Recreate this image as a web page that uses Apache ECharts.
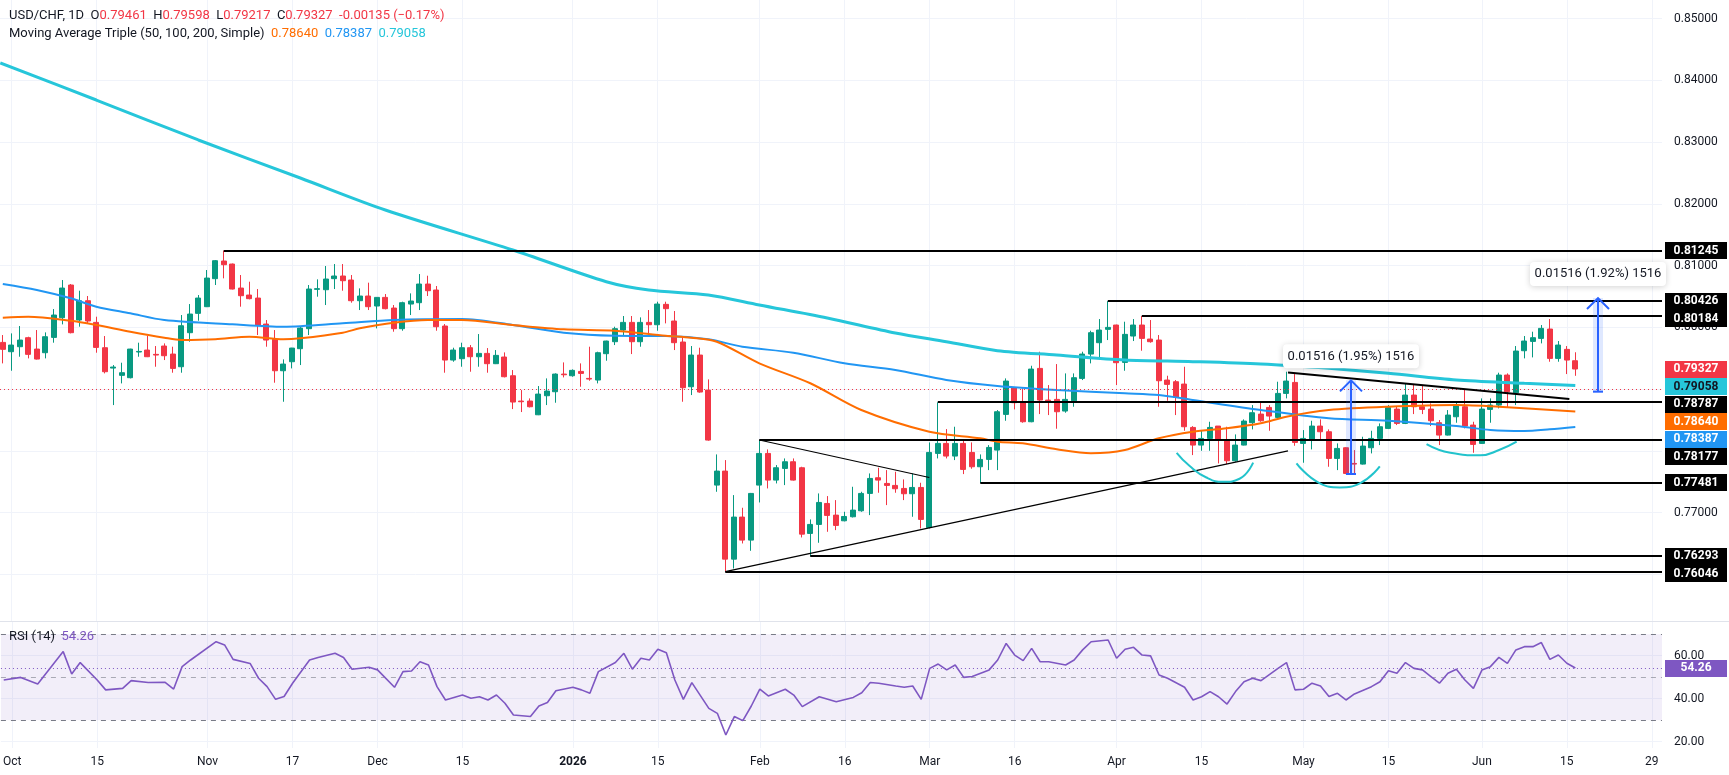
<!DOCTYPE html>
<html><head><meta charset="utf-8">
<script src="https://cdn.jsdelivr.net/npm/echarts@6/dist/echarts.min.js"></script>
<style>html,body{margin:0;padding:0;background:#fff;overflow:hidden}#c{width:1729px;height:775px}</style>
</head><body><div id="c"></div>
<script>
const FONT = 'Roboto, "Noto Sans", "DejaVu Sans", sans-serif';
// ---- time axis (trading-day index; 0 = 1 Oct 2025) ----
const firstIdx = -1;
const tickIdx  = [0,10,23,33,43,53,66,76,88,98,108,118,130,140,152,162,173,183,193];
const tickText = ['Oct','15','Nov','17','Dec','15','2026','15','Feb','16','Mar','16','Apr','15','May','15','Jun','15','29'];
// ---- price ticks ----
const priceTicks = [0.76,0.77,0.78,0.79,0.80,0.81,0.82,0.83,0.84,0.85];
const rsiTicks = [20,40,60];
// ---- daily candles (index -1 .. 184) ----
const open = [0.79758,0.79607,0.79688,0.79834,0.79650,0.79591,0.79839,0.80158,0.80687,0.80120,0.80433,0.80082,0.79672,0.79342,0.79224,0.79186,0.79602,0.79634,0.79564,0.79699,0.79569,0.79364,0.79915,0.80228,0.80336,0.80790,0.81076,0.81027,0.80638,0.80525,0.80476,0.80055,0.79807,0.79299,0.79445,0.79656,0.79980,0.80617,0.80611,0.80790,0.80833,0.80768,0.80433,0.80509,0.80347,0.80487,0.80314,0.79980,0.80379,0.80401,0.80703,0.80606,0.80023,0.79472,0.79494,0.79672,0.79526,0.79580,0.79413,0.79521,0.79218,0.78808,0.78808,0.78586,0.78894,0.78959,0.79245,0.79218,0.79288,0.79175,0.79148,0.79575,0.79769,0.79958,0.80082,0.79769,0.80082,0.80044,0.80374,0.80104,0.79764,0.79040,0.79553,0.78986,0.77447,0.77674,0.76248,0.76929,0.76556,0.77447,0.77960,0.77528,0.77717,0.77825,0.77728,0.76664,0.76810,0.77150,0.76961,0.76869,0.76934,0.77031,0.77312,0.77566,0.77474,0.77442,0.77393,0.77307,0.77409,0.76761,0.77960,0.78122,0.77917,0.78122,0.77976,0.77744,0.77863,0.78014,0.78592,0.79024,0.78781,0.78473,0.79337,0.78824,0.78835,0.78646,0.78813,0.79175,0.79569,0.79753,0.79969,0.80039,0.79434,0.79861,0.80039,0.79812,0.79796,0.79148,0.79121,0.79083,0.78381,0.78095,0.78203,0.78403,0.78160,0.77841,0.78095,0.78457,0.78597,0.78705,0.78543,0.78932,0.79110,0.78122,0.78187,0.78403,0.78311,0.77879,0.78052,0.77798,0.77787,0.78052,0.78203,0.78365,0.78678,0.78446,0.78905,0.78716,0.78678,0.78457,0.78257,0.78554,0.78716,0.78419,0.78122,0.78673,0.78743,0.79229,0.78943,0.79623,0.79774,0.79823,0.79974,0.79499,0.79645,0.79461];
const high = [0.79877,0.79904,0.80023,0.79850,0.79958,0.79920,0.80298,0.80768,0.80703,0.80595,0.80509,0.80174,0.79861,0.79391,0.79429,0.79655,0.79753,0.79866,0.79699,0.79742,0.79688,0.80201,0.80379,0.80525,0.80930,0.81092,0.81245,0.81035,0.80849,0.80741,0.80622,0.80120,0.79958,0.79483,0.79670,0.80012,0.80687,0.80779,0.80995,0.81027,0.81027,0.80849,0.80633,0.80725,0.80490,0.80541,0.80363,0.80417,0.80552,0.80865,0.80838,0.80671,0.80055,0.79672,0.79753,0.79715,0.79893,0.79666,0.79634,0.79596,0.79310,0.78986,0.78851,0.79051,0.79175,0.79256,0.79434,0.79321,0.79418,0.79688,0.79607,0.79785,0.80012,0.80185,0.80185,0.80163,0.80282,0.80417,0.80417,0.80266,0.79850,0.79699,0.79672,0.79159,0.77944,0.77852,0.77285,0.77080,0.77320,0.78177,0.78025,0.77771,0.77879,0.77879,0.77744,0.76891,0.77312,0.77269,0.77204,0.77015,0.77420,0.77339,0.77636,0.77728,0.77690,0.77663,0.77539,0.77636,0.77485,0.78138,0.78787,0.78354,0.78392,0.78176,0.78138,0.77944,0.78095,0.78662,0.79175,0.79030,0.79013,0.79380,0.79607,0.79067,0.79407,0.79256,0.79256,0.79607,0.79947,0.80136,0.80426,0.80045,0.80093,0.80136,0.80184,0.80120,0.79877,0.79218,0.79148,0.79364,0.78402,0.78338,0.78473,0.78403,0.78392,0.78268,0.78511,0.78743,0.78781,0.78743,0.79121,0.79283,0.79245,0.78338,0.78489,0.78511,0.78349,0.78122,0.78060,0.78014,0.78230,0.78327,0.78446,0.78743,0.78727,0.79094,0.79083,0.79056,0.78770,0.78500,0.78662,0.78781,0.79002,0.78473,0.78851,0.78851,0.79267,0.79256,0.79699,0.79861,0.79931,0.80039,0.80136,0.79780,0.79699,0.79598];
const low = [0.79418,0.79299,0.79526,0.79499,0.79480,0.79499,0.79753,0.80050,0.79904,0.80012,0.80066,0.79591,0.79256,0.78743,0.79094,0.79175,0.79526,0.79520,0.79364,0.79472,0.79267,0.79267,0.79769,0.80109,0.80330,0.80687,0.80795,0.80615,0.80336,0.80455,0.79877,0.79688,0.79105,0.78797,0.79337,0.79391,0.79877,0.80498,0.80363,0.80622,0.80595,0.80401,0.80282,0.80282,0.79985,0.80293,0.79931,0.79947,0.80201,0.80282,0.80509,0.79947,0.79267,0.79445,0.79364,0.79283,0.79364,0.79267,0.79407,0.79191,0.78678,0.78630,0.78705,0.78580,0.78743,0.78781,0.79191,0.79202,0.79040,0.79137,0.79094,0.79461,0.79715,0.79877,0.79569,0.79688,0.79850,0.79947,0.80066,0.79634,0.78797,0.78905,0.78943,0.78165,0.77339,0.76046,0.76097,0.76502,0.76383,0.77166,0.77393,0.77474,0.77447,0.77520,0.76599,0.76293,0.76513,0.76691,0.76718,0.76860,0.76923,0.77015,0.76961,0.77323,0.77123,0.77323,0.77204,0.76934,0.76745,0.76745,0.77879,0.77879,0.77852,0.77625,0.77712,0.77481,0.77690,0.77690,0.78489,0.78673,0.78457,0.78465,0.78597,0.78581,0.78360,0.78619,0.78716,0.79148,0.79418,0.79483,0.79796,0.79067,0.79299,0.79780,0.79623,0.79753,0.78716,0.78813,0.78581,0.78327,0.77933,0.78003,0.78003,0.77798,0.77787,0.77825,0.78090,0.78349,0.78473,0.78327,0.78527,0.78851,0.78084,0.77809,0.78025,0.78176,0.77744,0.77690,0.77625,0.77625,0.77780,0.77960,0.78095,0.78354,0.78419,0.78435,0.78597,0.78597,0.78403,0.78095,0.78250,0.78457,0.78365,0.77971,0.78115,0.78457,0.78689,0.78705,0.78743,0.79499,0.79515,0.79742,0.79445,0.79445,0.79245,0.79217];
const close = [0.79645,0.79715,0.79796,0.79564,0.79488,0.79850,0.80201,0.80638,0.79915,0.80433,0.80104,0.79677,0.79283,0.79359,0.79267,0.79650,0.79612,0.79526,0.79553,0.79542,0.79337,0.80028,0.80217,0.80476,0.80800,0.81081,0.81016,0.80622,0.80514,0.80466,0.80034,0.79796,0.79299,0.79407,0.79666,0.79990,0.80622,0.80628,0.80784,0.80833,0.80757,0.80433,0.80509,0.80336,0.80487,0.80304,0.79980,0.80401,0.80428,0.80703,0.80595,0.80012,0.79472,0.79634,0.79672,0.79526,0.79580,0.79413,0.79548,0.79202,0.78792,0.78797,0.78716,0.78921,0.78970,0.79245,0.79234,0.79305,0.79256,0.79164,0.79591,0.79780,0.79980,0.80082,0.79769,0.80082,0.80044,0.80379,0.80304,0.79753,0.79024,0.79553,0.78954,0.78176,0.77674,0.76248,0.76929,0.76556,0.77312,0.77960,0.77528,0.77728,0.77825,0.77528,0.76653,0.76810,0.77166,0.76956,0.76794,0.76939,0.77042,0.77312,0.77555,0.77528,0.77442,0.77388,0.77307,0.77409,0.76891,0.77976,0.78122,0.77917,0.78122,0.77701,0.77744,0.77863,0.78057,0.78635,0.79132,0.78781,0.78473,0.79326,0.78824,0.78813,0.78635,0.78835,0.79186,0.79569,0.79915,0.79958,0.80001,0.79429,0.79888,0.80039,0.79823,0.79769,0.79137,0.79078,0.78867,0.78392,0.78095,0.78203,0.78381,0.78187,0.77841,0.78095,0.78484,0.78619,0.78489,0.78565,0.78932,0.79132,0.78138,0.78203,0.78403,0.78311,0.77879,0.78041,0.77636,0.77787,0.78079,0.78203,0.78392,0.78705,0.78446,0.78905,0.78716,0.78673,0.78489,0.78257,0.78581,0.78727,0.78403,0.78106,0.78678,0.78743,0.79229,0.78959,0.79618,0.79780,0.79834,0.79985,0.79499,0.79715,0.79472,0.79327];
// ---- moving averages [dayIndex, value] ----
const ma50 = [[-1,0.80158],[2,0.80174],[7,0.80109],[10,0.80040],[14,0.79931],[18,0.79834],[20,0.79797],[24,0.79808],[28,0.79850],[32,0.79808],[34,0.79824],[39,0.79915],[41,0.79986],[45,0.80077],[49,0.80121],[53,0.80121],[59,0.80040],[65,0.79970],[71,0.79947],[77,0.79866],[80,0.79834],[83,0.79769],[88,0.79419],[94,0.79096],[100,0.78663],[108,0.78312],[114,0.78205],[116,0.78150],[119,0.78124],[123,0.78027],[127,0.77962],[131,0.78015],[135,0.78205],[139,0.78312],[143,0.78367],[147,0.78448],[150,0.78555],[155,0.78663],[162,0.78717],[170,0.78744],[175,0.78717],[184,0.78640]];
const ma100 = [[-1,0.80704],[3,0.80607],[7,0.80472],[10,0.80336],[14,0.80229],[18,0.80121],[26,0.80051],[32,0.80012],[39,0.80067],[45,0.80121],[53,0.80137],[59,0.80040],[65,0.79915],[71,0.79866],[77,0.79861],[82,0.79808],[86,0.79688],[92,0.79591],[98,0.79419],[104,0.79311],[110,0.79149],[116,0.79052],[123,0.78987],[131,0.78934],[135,0.78906],[139,0.78825],[147,0.78663],[155,0.78529],[162,0.78490],[170,0.78404],[174,0.78339],[178,0.78323],[181,0.78350],[184,0.78387]];
const ma200 = [[-1.3,0.84283],[10,0.83683],[22,0.83036],[34,0.82420],[44,0.81902],[59,0.81254],[70,0.80741],[75,0.80607],[82,0.80526],[88,0.80364],[96,0.80153],[104,0.79910],[110,0.79769],[116,0.79624],[123,0.79554],[131,0.79473],[139,0.79446],[147,0.79408],[155,0.79338],[162,0.79258],[170,0.79149],[178,0.79096],[184,0.79058]];
// ---- RSI(14) ----
const rsiIdx = [-1,1,3,6,7,8,10,11,13,14,16,18,19,20,21,24,25,26,28,29,30,31,32,33,35,36,38,39,40,42,43,45,46,47,48,49,50,51,53,54,55,56,57,58,59,61,62,63,64,66,67,68,69,71,72,73,74,75,76,77,78,79,80,82,83,84,85,86,87,88,89,91,92,93,95,97,99,100,101,102,104,105,106,107,108,109,110,111,112,113,115,116,117,118,119,120,121,122,124,125,126,127,129,130,131,132,133,134,135,136,138,139,140,141,142,143,144,145,146,147,149,150,151,152,153,154,155,156,157,158,160,161,162,163,164,165,166,167,168,169,170,171,172,173,174,175,176,177,178,179,180,181,182,183,184];
const rsiVal = [48.7,49.9,46.8,61.9,51.5,56.8,48.7,44.1,44.8,48.4,47.5,47.6,44.5,54.9,58,66.5,65,58.3,56.4,49.5,45.6,39.7,41,47.2,58,59.2,61.1,59.2,53.7,54.6,53.4,45.3,52.6,52.9,57.2,55.7,45.6,39.4,41.7,40.2,40.9,39.4,41.7,37.9,32.4,31.7,36.6,38.2,43.7,45.3,44.1,42.5,52.6,56.8,61.1,53.7,58.8,58,63,61.4,48.7,39.7,47.5,35.5,33.2,23.1,31.7,29.8,36.6,44.4,41.3,44.4,41.7,36.3,40.9,38.6,40.6,42.8,47.5,47.2,45.9,45.3,45.9,39.7,54.1,56.1,53.4,55.7,49.9,50.3,53.4,58,65.7,60.3,57.7,63.4,57.2,57.2,55.7,58,62.7,66.5,67.3,58.8,63,63.9,60.3,59.9,51,49.5,45.3,39.4,40.9,43.3,40.9,37.5,43.3,47.9,49.5,48.4,54.1,56.8,44.1,44.4,47.2,45.9,41,42.5,39.4,42.2,45.6,47.9,53,51.8,56.8,54.1,53.4,50.3,47.2,51.8,53.7,48.7,44.8,53.3,54.9,59.2,56.4,62.7,64.2,64.2,66.1,58.3,60.3,56.5,54.26];
const rsiLevels = [70,50,30];
// ---- drawings ----
const levelStart = [25,129,133,109,88,114,94,84];
const levelPrice = [0.81245,0.80426,0.80184,0.78787,0.78177,0.77481,0.76293,0.76046];
const triUpper = [[88,0.78177],[108,0.7757]];
const triLower = [[84,0.76046],[150.2,0.7800]];
const descLine = [[150.2,0.7927],[183.3,0.7884]];
const arc1 = [[137.1,0.7797],[138.6,0.7776],[140.6,0.7757],[142.6,0.7750],[144.5,0.7755],[146.1,0.7781]];
const arc2 = [[151.2,0.7780],[153.9,0.7748],[156.3,0.7741],[158.7,0.7748],[161,0.7775]];
const arc3 = [[166.5,0.7811],[169.3,0.7797],[172.8,0.7793],[175.1,0.7802],[177.1,0.7815]];
const measures = [[157.6,0.77627,0.79143],[186.7,0.78960,0.80476]];
const measureText = ['0.01516 (1.95%) 1516','0.01516 (1.92%) 1516'];
const headerVals = {o:'0.79461',h:'0.79598',l:'0.79217',c:'0.79327',chg:'-0.00135 (\u22120.17%)'};
const maHeader = ['0.78640','0.78387','0.79058'];

const C_UP='#089981', C_DN='#f23645', C_MA50='#ff6d00', C_MA100='#2196f3', C_MA200='#26c6da', C_RSI='#7e57c2', GRID='#f0f3fa', TXT='#131722';
const xMin=-1.33, xMax=194.2;
const candleData = open.map((o,i)=>[firstIdx+i,o,close[i],low[i],high[i]]);
const lastClose = close[close.length-1];
const rsiData = rsiIdx.map((x,i)=>[x,rsiVal[i]]);
const lastRsi = rsiVal[rsiVal.length-1];

const chart = echarts.init(document.getElementById('c'));
const xCommon = (grid, showLabel) => ({
  gridIndex:grid, type:'value', min:xMin, max:xMax,
  axisLine:{show:false}, axisTick:{show:false, customValues:tickIdx},
  axisLabel:{show:showLabel, customValues:tickIdx, margin:8, color:TXT, fontSize:12, fontFamily:FONT,
    formatter:v=>{const t=tickText[tickIdx.indexOf(Math.round(v))]; return t==='2026'?'{b|2026}':t;},
    rich:{b:{fontWeight:'bold',fontSize:12,color:TXT,fontFamily:FONT}}},
  splitLine:{show:true, lineStyle:{color:GRID,width:1}}
});
const lineS = (data, color, width, extra) => Object.assign({type:'line', data, xAxisIndex:0, yAxisIndex:0, symbol:'none', silent:true, animation:false,
  lineStyle:{color, width}, z:4}, extra||{});

chart.setOption({
  animation:false,
  backgroundColor:'#fff',
  grid:[{left:0,right:67,top:0,height:621},{left:0,right:67,top:622,height:126}],
  xAxis:[xCommon(0,false), xCommon(1,true)],
  yAxis:[
    {gridIndex:0,type:'value',position:'right',min:0.752462,max:0.853028,
     axisLine:{show:false},axisTick:{show:false,customValues:priceTicks},
     axisLabel:{customValues:priceTicks,formatter:v=>v.toFixed(5),color:TXT,fontSize:12,fontFamily:FONT,margin:12,hideOverlap:false},
     splitLine:{show:true,lineStyle:{color:GRID}}},
    {gridIndex:1,type:'value',position:'right',min:17.07,max:75.67,
     axisLine:{show:false},axisTick:{show:false,customValues:rsiTicks},
     axisLabel:{customValues:rsiTicks,formatter:v=>v.toFixed(2),color:TXT,fontSize:12,fontFamily:FONT,margin:12},
     splitLine:{show:true,lineStyle:{color:GRID}}}
  ],
  series:[
    {type:'candlestick', xAxisIndex:0, yAxisIndex:0, data:candleData, encode:{x:0,y:[1,2,3,4]}, barWidth:5.5, z:3, silent:true,
     itemStyle:{color:C_UP,color0:C_DN,borderColor:C_UP,borderColor0:C_DN,borderWidth:1},
     markLine:{silent:true,symbol:'none',label:{show:false},lineStyle:{color:C_DN,type:[1,3],width:1},data:[{yAxis:lastClose}]}},
    lineS(ma200,C_MA200,3,{smooth:0.3}),
    lineS(ma100,C_MA100,2,{smooth:0.3}),
    lineS(ma50,C_MA50,2,{smooth:0.3}),
    {type:'custom', xAxisIndex:0, yAxisIndex:0, silent:true, z:6,
     data:levelStart.map((s,i)=>[s,levelPrice[i]]), encode:{x:0,y:1},
     renderItem:(params,api)=>{const p=api.coord([api.value(0),api.value(1)]); const y=Math.round(p[1]);
       return {type:'line',shape:{x1:p[0],y1:y,x2:params.coordSys.x+params.coordSys.width,y2:y},style:{stroke:'#000',lineWidth:2}};}},
    lineS(triUpper,'#000',1.2,{z:6}),
    lineS(triLower,'#000',1.2,{z:6}),
    lineS(descLine,'#000',2,{z:6}),
    lineS(arc1,'#22c3cc',2,{smooth:0.5,z:6}),
    lineS(arc2,'#22c3cc',2,{smooth:0.5,z:6}),
    lineS(arc3,'#22c3cc',2,{smooth:0.5,z:6}),
    {type:'custom', xAxisIndex:0, yAxisIndex:0, silent:true, z:8, clip:false,
     data:measures, encode:{x:0,y:[1,2]},
     renderItem:(params,api)=>{
       const a=api.coord([api.value(0),api.value(1)]), b=api.coord([api.value(0),api.value(2)]);
       const x=Math.round(a[0]), yl=a[1], yh=b[1]; const col='#2962ff';
       const w=136, h=24, by=yh-12-h;
       return {type:'group',children:[
         {type:'rect',shape:{x:x-5,y:yh,width:10,height:yl-yh},style:{fill:'rgba(41,98,255,0.15)'}},
         {type:'line',shape:{x1:x,y1:yl,x2:x,y2:yh+1},style:{stroke:col,lineWidth:2}},
         {type:'line',shape:{x1:x-5,y1:yl,x2:x+5,y2:yl},style:{stroke:col,lineWidth:2}},
         {type:'polyline',shape:{points:[[x-11,yh+11],[x,yh],[x+11,yh+11]]},style:{stroke:col,lineWidth:2,fill:null}},
         {type:'rect',shape:{x:x-w/2,y:by,width:w,height:h,r:4},style:{fill:'#fff',shadowBlur:6,shadowColor:'rgba(0,0,0,0.18)',shadowOffsetY:1}},
         {type:'text',x:x,y:by+h/2,style:{text:measureText[params.dataIndex],align:'center',verticalAlign:'middle',fill:TXT,fontSize:13,fontFamily:FONT}}
       ]};}},
    {type:'line', xAxisIndex:1, yAxisIndex:1, data:rsiData, symbol:'none', silent:true, lineStyle:{color:C_RSI,width:1.6}, z:5,
     markArea:{silent:true,itemStyle:{color:'rgba(126,87,194,0.1)'},data:[[{yAxis:rsiLevels[2]},{yAxis:rsiLevels[0]}]]},
     markLine:{silent:true,symbol:'none',label:{show:false},data:[
       {yAxis:rsiLevels[0],lineStyle:{color:'#787b86',type:[5,5],width:1}},
       {yAxis:rsiLevels[1],lineStyle:{color:'#787b86',type:[5,5],width:1,opacity:0.6}},
       {yAxis:rsiLevels[2],lineStyle:{color:'#787b86',type:[5,5],width:1}},
       {yAxis:lastRsi,lineStyle:{color:C_RSI,type:[1,3],width:1}}]}}
  ]
});

function drawOverlay(){
  const H=17.5;
  const tags = levelPrice.map(v=>({v,bg:'#000',fg:'#fff'}));
  tags.push({v:lastClose,bg:C_DN,fg:'#fff'});
  tags.push({v:ma200[ma200.length-1][1],bg:C_MA200,fg:TXT});
  tags.push({v:ma50[ma50.length-1][1],bg:C_MA50,fg:'#fff'});
  tags.push({v:ma100[ma100.length-1][1],bg:C_MA100,fg:'#fff'});
  tags.forEach(t=>t.y=chart.convertToPixel({yAxisIndex:0},t.v));
  tags.sort((a,b)=>a.y-b.y);
  for(let i=1;i<tags.length;i++){ if(tags[i].y<tags[i-1].y+H) tags[i].y=tags[i-1].y+H; }
  const rsiY = chart.convertToPixel({yAxisIndex:1},lastRsi);
  const els=[];
  els.push({type:'line',shape:{x1:0,y1:621.5,x2:1729,y2:621.5},style:{stroke:'#e0e3eb',lineWidth:1},silent:true});
  const tag=(y,txt,bg,fg)=>{
    els.push({type:'rect',shape:{x:1665,y:Math.round(y-8.5),width:62,height:17},style:{fill:bg},z:100,silent:true});
    els.push({type:'text',x:1696,y:Math.round(y),style:{text:txt,fill:fg,fontSize:12,fontWeight:'bold',fontFamily:FONT,align:'center',verticalAlign:'middle'},z:101,silent:true});
  };
  tags.forEach(t=>tag(t.y,t.v.toFixed(5),t.bg,t.fg));
  tag(rsiY,lastRsi.toFixed(2),C_RSI,'#fff');
  els.push({type:'text',x:9,y:9,z:100,silent:true,style:{fontSize:13,fontFamily:FONT,fill:TXT,
    text:'{d|USD/CHF, 1D  O}{r|'+headerVals.o+'}{d|  H}{r|'+headerVals.h+'}{d|  L}{r|'+headerVals.l+'}{d|  C}{r|'+headerVals.c+'}{r|  '+headerVals.chg+'}',
    rich:{d:{fill:TXT,fontSize:13,fontFamily:FONT},r:{fill:C_DN,fontSize:13,fontFamily:FONT}}}});
  els.push({type:'text',x:9,y:27,z:100,silent:true,style:{fontSize:13,fontFamily:FONT,fill:TXT,
    text:'{d|Moving Average Triple (50, 100, 200, Simple)  }{a|'+maHeader[0]+'}{d|  }{b|'+maHeader[1]+'}{d|  }{c|'+maHeader[2]+'}',
    rich:{d:{fill:TXT,fontSize:13,fontFamily:FONT},a:{fill:C_MA50,fontSize:13,fontFamily:FONT},b:{fill:C_MA100,fontSize:13,fontFamily:FONT},c:{fill:C_MA200,fontSize:13,fontFamily:FONT}}}});
  els.push({type:'text',x:9,y:630,z:100,silent:true,style:{fontSize:13,fontFamily:FONT,
    text:'{d|RSI (14)  }{p|'+lastRsi.toFixed(2)+'}',
    rich:{d:{fill:TXT,fontSize:13,fontFamily:FONT},p:{fill:C_RSI,fontSize:13,fontFamily:FONT}}}});
  chart.setOption({graphic:{elements:els}});
}
drawOverlay();
</script></body></html>
